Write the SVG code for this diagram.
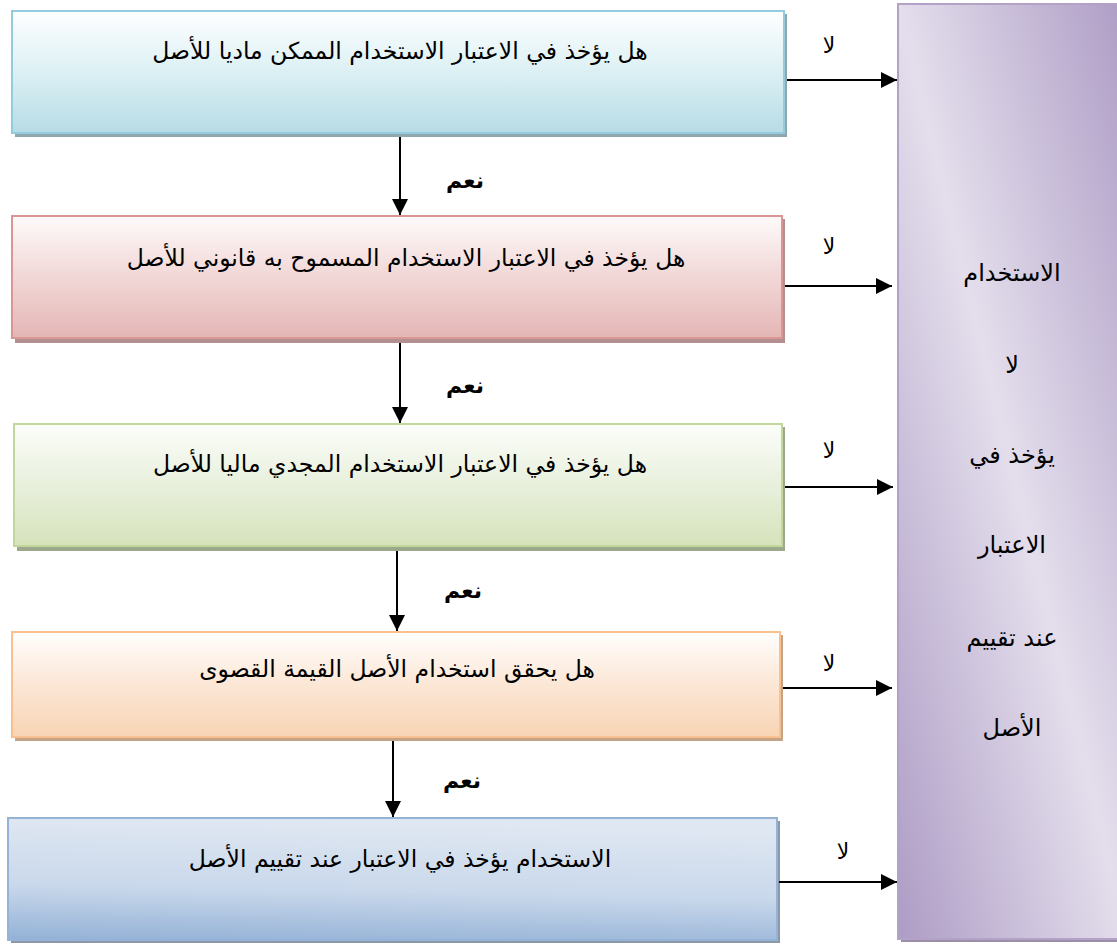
<svg xmlns="http://www.w3.org/2000/svg" width="1117" height="944" viewBox="0 0 1117 944">
<style>
text{font-family:"DejaVu Sans","Noto Sans",sans-serif;fill:#000;text-anchor:middle}
.t{font-size:23.5px}
.lbl{font-size:22px}
.yes{font-size:22px;font-weight:bold}
.pt{font-size:24px}
.edge{stroke:#000;stroke-width:2;fill:none;marker-end:url(#ah)}
</style>
<defs>
<marker id="ah" viewBox="0 0 10 10" refX="10" refY="5" markerWidth="8" markerHeight="8" orient="auto" markerUnits="strokeWidth">
<path d="M0,0 L10,5 L0,10 z" fill="#000"/>
</marker>
<linearGradient id="g1" x1="0" y1="0" x2="0" y2="1"><stop offset="0" stop-color="#feffff"/><stop offset="0.5" stop-color="#dcf0f4"/><stop offset="1" stop-color="#b6dce6"/></linearGradient>
<linearGradient id="g2" x1="0" y1="0" x2="0" y2="1"><stop offset="0" stop-color="#fefafa"/><stop offset="0.5" stop-color="#f1d7d6"/><stop offset="1" stop-color="#e4b6b5"/></linearGradient>
<linearGradient id="g3" x1="0" y1="0" x2="0" y2="1"><stop offset="0" stop-color="#fcfdfa"/><stop offset="0.5" stop-color="#e8f0dc"/><stop offset="1" stop-color="#d6e3bb"/></linearGradient>
<linearGradient id="g4" x1="0" y1="0" x2="0" y2="1"><stop offset="0" stop-color="#fffefd"/><stop offset="0.5" stop-color="#fce7d6"/><stop offset="1" stop-color="#f8d4b4"/></linearGradient>
<linearGradient id="g5" x1="0" y1="1" x2="0.12" y2="0"><stop offset="0" stop-color="#93b1d6"/><stop offset="0.45" stop-color="#c9d8eb"/><stop offset="1" stop-color="#dfe7f2"/></linearGradient>
<linearGradient id="gp" x1="1" y1="0" x2="0" y2="1"><stop offset="0" stop-color="#ad9cc5"/><stop offset="0.5" stop-color="#e4deec"/><stop offset="1" stop-color="#ad9cc5"/></linearGradient>
</defs>

<g id="panel">
<rect x="901" y="7" width="230" height="935" fill="#9a8fa6"/>
<rect x="898" y="4" width="230" height="935" fill="url(#gp)" stroke="#b3a2c7" stroke-width="2"/>
<text class="pt" x="1012" y="281">الاستخدام</text>
<text class="pt" x="1012" y="373">لا</text>
<text class="pt" x="1012" y="463">يؤخذ في</text>
<text class="pt" x="1012" y="553">الاعتبار</text>
<text class="pt" x="1012" y="646">عند تقييم</text>
<text class="pt" x="1012" y="736">الأصل</text>
</g>

<g id="box1">
<rect x="15" y="14" width="772" height="123" fill="#8fa8b0"/>
<rect x="12" y="11" width="772" height="122" fill="url(#g1)" stroke="#93cddd" stroke-width="2"/>
<text class="t" x="400" y="59">هل يؤخذ في الاعتبار الاستخدام الممكن ماديا للأصل</text>
</g>
<g id="box2">
<rect x="15" y="219" width="770" height="124" fill="#b38f8f"/>
<rect x="12" y="216" width="770" height="122" fill="url(#g2)" stroke="#d99694" stroke-width="2"/>
<text class="t" x="406" y="266">هل يؤخذ في الاعتبار الاستخدام المسموح به قانوني للأصل</text>
</g>
<g id="box3">
<rect x="17" y="427" width="768" height="124" fill="#9ba88b"/>
<rect x="14" y="424" width="768" height="122" fill="url(#g3)" stroke="#c3d69b" stroke-width="2"/>
<text class="t" x="400" y="472">هل يؤخذ في الاعتبار الاستخدام المجدي ماليا للأصل</text>
</g>
<g id="box4">
<rect x="15" y="635" width="768" height="106" fill="#c4a487"/>
<rect x="12" y="632" width="768" height="105" fill="url(#g4)" stroke="#fac090" stroke-width="2"/>
<text class="t" x="397" y="677">هل يحقق استخدام الأصل القيمة القصوى</text>
</g>
<g id="box5">
<rect x="11" y="821" width="769" height="122" fill="#8b98a8"/>
<rect x="8" y="818" width="769" height="122" fill="url(#g5)" stroke="#95b3d7" stroke-width="2"/>
<text class="t" x="400" y="867">الاستخدام يؤخذ في الاعتبار عند تقييم الأصل</text>
</g>

<g id="connectors">
<line class="edge" x1="400" y1="137" x2="400" y2="215"/>
<line class="edge" x1="400" y1="343" x2="400" y2="423"/>
<line class="edge" x1="397" y1="551" x2="397" y2="631"/>
<line class="edge" x1="393" y1="741" x2="393" y2="817"/>
<line class="edge" x1="787" y1="80" x2="897" y2="80"/>
<line class="edge" x1="785" y1="286" x2="892" y2="286"/>
<line class="edge" x1="785" y1="487" x2="893" y2="487"/>
<line class="edge" x1="783" y1="688" x2="892" y2="688"/>
<line class="edge" x1="779" y1="882" x2="897" y2="882"/>
<text class="yes" x="465" y="188">نعم</text>
<text class="yes" x="465" y="393">نعم</text>
<text class="yes" x="463" y="598">نعم</text>
<text class="yes" x="462" y="788">نعم</text>
<text class="lbl" x="829" y="53">لا</text>
<text class="lbl" x="829" y="254">لا</text>
<text class="lbl" x="829" y="458">لا</text>
<text class="lbl" x="829" y="671">لا</text>
<text class="lbl" x="843" y="859">لا</text>
</g>
</svg>
